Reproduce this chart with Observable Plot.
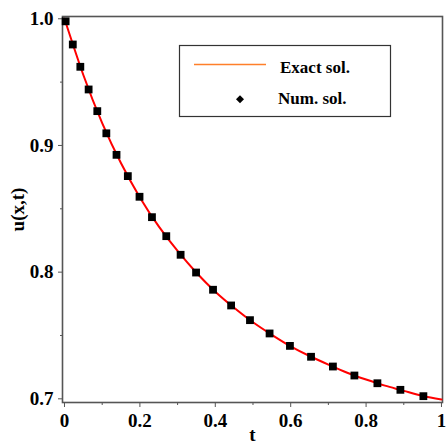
<!DOCTYPE html>
<html>
<head>
<meta charset="utf-8">
<script src="https://cdn.jsdelivr.net/npm/d3@7"></script>
<script src="https://cdn.jsdelivr.net/npm/@observablehq/plot@0.6"></script>
<style>
  html, body { margin: 0; padding: 0; background: #fff; }
  #wrap { position: relative; width: 446px; height: 443px; overflow: hidden; }
  #legend { position: absolute; left: 0; top: 0; pointer-events: none; }
  #wrap svg text { font-family: "Liberation Serif", "Times New Roman", serif; }
</style>
</head>
<body>
<div id="wrap"></div>
<script>
// Exact solution
const exactT = [0, 0.05, 0.1, 0.15, 0.2, 0.25, 0.3, 0.35, 0.4, 0.45, 0.5, 0.55, 0.6, 0.65, 0.7, 0.75, 0.8, 0.85, 0.9, 0.95, 1.0];
const exactU = [1.0, 0.9556, 0.9177, 0.8859, 0.8590, 0.8361, 0.8167, 0.7995, 0.7846, 0.7719, 0.7604, 0.7505, 0.7414, 0.7338, 0.7270, 0.7206, 0.7152, 0.7104, 0.7063, 0.7022, 0.6995];
// Numerical solution markers
const numT = [0.003, 0.022, 0.042, 0.064, 0.087, 0.111, 0.138, 0.168, 0.199, 0.232, 0.270, 0.308, 0.349, 0.394, 0.442, 0.492, 0.544, 0.598, 0.654, 0.712, 0.769, 0.830, 0.891, 0.952];
const numU = [0.998, 0.9797, 0.9621, 0.9442, 0.9271, 0.9096, 0.8926, 0.8758, 0.8595, 0.8434, 0.8284, 0.8137, 0.7997, 0.7861, 0.7737, 0.7621, 0.7516, 0.7418, 0.7332, 0.7255, 0.7184, 0.7123, 0.7071, 0.7021];
const xMajor = [0, 0.2, 0.4, 0.6, 0.8, 1];
const xMinor = [0.1, 0.3, 0.5, 0.7, 0.9];
const yMajor = [0.7, 0.8, 0.9, 1.0];
const yMinor = [0.75, 0.85, 0.95];
const legendLabels = ["Exact sol.", "Num. sol."];

const exact = exactT.map((t, i) => ({t, u: exactU[i]}));
const num = numT.map((t, i) => ({t, u: numU[i]}));

const font = "Liberation Serif, Times New Roman, serif";

const chart = Plot.plot({
  width: 446,
  height: 443,
  marginLeft: 62,
  marginRight: 4,
  marginTop: 16,
  marginBottom: 41,
  style: {fontFamily: font, fontSize: "18px", fontWeight: "bold", color: "#000", background: "#fff"},
  x: {domain: [-0.0053, 1.0027]},
  y: {domain: [0.6971, 1.0018]},
  marks: [
    Plot.frame({stroke: "#555", strokeWidth: 1.6}),
    Plot.axisX(xMajor, {tickSize: 5, tickPadding: 6, tickFormat: d => d === 0 || d === 1 ? String(d) : d.toFixed(1), stroke: "#555", label: "t", labelAnchor: "center", labelArrow: "none", labelOffset: 38, fontSize: 19, fontFamily: font, fontWeight: "bold"}),
    Plot.axisX(xMinor, {tickSize: 3, tickFormat: () => "", stroke: "#555", label: null}),
    Plot.axisY(yMajor, {tickSize: 4, tickPadding: 5, tickFormat: d => d.toFixed(1), stroke: "#555", label: "u(x,t)", labelAnchor: "center", labelOffset: 52, labelArrow: "none", fontSize: 19, fontFamily: font, fontWeight: "bold"}),
    Plot.axisY(yMinor, {tickSize: 2, tickFormat: () => "", stroke: "#555", label: null}),
    Plot.line(exact, {x: "t", y: "u", stroke: "#ff0000", strokeWidth: 2, curve: "natural"}),
    Plot.dot(num, {x: "t", y: "u", symbol: "square", r: 4.4, fill: "#000", stroke: "none"})
  ]
});
const wrap = document.getElementById("wrap");
wrap.appendChild(chart);

// Legend overlay
const ns = "http://www.w3.org/2000/svg";
const leg = document.createElementNS(ns, "svg");
leg.setAttribute("id", "legend");
leg.setAttribute("width", 446);
leg.setAttribute("height", 443);
leg.innerHTML = `
  <rect x="179.5" y="45.5" width="211" height="71" fill="#fff" stroke="#333" stroke-width="1.2"/>
  <line x1="194" y1="64.5" x2="266" y2="64.5" stroke="#ff7f2a" stroke-width="1.3"/>
  <path d="M240,95.3 L244,99.3 L240,103.3 L236,99.3 Z" fill="#000"/>
  <text x="280" y="72.5" font-family="${font}" font-weight="bold" font-size="17" fill="#000">${legendLabels[0]}</text>
  <text x="278" y="103.5" font-family="${font}" font-weight="bold" font-size="17" fill="#000">${legendLabels[1]}</text>
`;
wrap.appendChild(leg);
</script>
</body>
</html>
